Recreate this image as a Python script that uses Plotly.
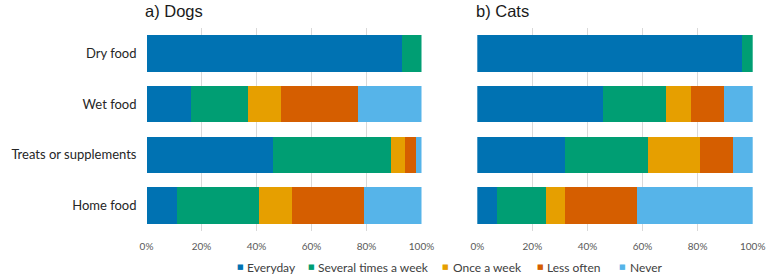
import plotly.graph_objects as go

categories = ["Dry food", "Wet food", "Treats or supplements", "Home food"]
series_names = ["Everyday", "Several times a week", "Once a week", "Less often", "Never"]
colors = ["#0072B2", "#009E73", "#E69F00", "#D55E00", "#56B4E9"]

dogs = {
    "Everyday":             [93, 16, 46, 11],
    "Several times a week": [7, 21, 43, 30],
    "Once a week":          [0, 12, 5, 12],
    "Less often":           [0, 28, 4, 26],
    "Never":                [0, 23, 2, 21],
}
cats = {
    "Everyday":             [96, 45.5, 32, 7],
    "Several times a week": [4, 23, 30, 18],
    "Once a week":          [0, 9, 19, 7],
    "Less often":           [0, 12, 12, 26],
    "Never":                [0, 10.5, 7, 42],
}
tick_vals = [0, 20, 40, 60, 80, 100]
tick_text = ["0%", "20%", "40%", "60%", "80%", "100%"]

W, H = 767, 277
FONT = "Lato"
top_m, bot_m = 28, 46
ph = H - top_m - bot_m

fig = go.Figure()
for name, col in zip(series_names, colors):
    fig.add_trace(go.Bar(y=categories, x=dogs[name], name=name, orientation="h",
                         marker=dict(color=col, line=dict(width=0)),
                         xaxis="x", yaxis="y", showlegend=False))
    fig.add_trace(go.Bar(y=categories, x=cats[name], name=name, orientation="h",
                         marker=dict(color=col, line=dict(width=0)),
                         xaxis="x2", yaxis="y2", showlegend=False))

axis_x = dict(range=[0, 100], tickvals=tick_vals, ticktext=tick_text, showgrid=True,
              gridcolor="#d9d9d9", gridwidth=1, zeroline=False, showline=False,
              tickfont=dict(size=10, color="#595959", family=FONT), ticks="",
              ticklabelstandoff=8, fixedrange=True, automargin=False)


def py(pix_from_top):
    return (H - pix_from_top - bot_m) / ph


# legend drawn as text annotations (square + label)
legend_sq_px = [236.7, 307.7, 442.0, 536.7, 619.3]
annotations = []
for name, col, px in zip(series_names, colors, legend_sq_px):
    annotations.append(dict(text="■", x=(px - 2) / W, xref="paper", xanchor="left",
                            y=py(266.5), yref="paper", yanchor="middle", showarrow=False,
                            font=dict(size=7, color=col, family="DejaVu Sans")))
    annotations.append(dict(text=name, x=(px + 8.5) / W, xref="paper", xanchor="left",
                            y=py(267), yref="paper", yanchor="middle", showarrow=False,
                            font=dict(size=12, color="#404040", family=FONT)))

annotations += [
    dict(text="a) Dogs", x=143 / W, xref="paper", xanchor="left", y=py(11),
         yref="paper", yanchor="middle", showarrow=False,
         font=dict(size=16.5, color="#1a1a1a", family="Liberation Sans")),
    dict(text="b) Cats", x=474 / W, xref="paper", xanchor="left", y=py(11),
         yref="paper", yanchor="middle", showarrow=False,
         font=dict(size=16.5, color="#1a1a1a", family="Liberation Sans")),
]

fig.update_layout(
    barmode="stack",
    bargap=0.28,
    width=W, height=H,
    margin=dict(l=0, r=0, t=top_m, b=bot_m),
    paper_bgcolor="white", plot_bgcolor="white",
    font=dict(family=FONT),
    showlegend=False,
    xaxis=dict(domain=[146.5 / W, 421.5 / W], anchor="y", **axis_x),
    xaxis2=dict(domain=[477.3 / W, 752.7 / W], anchor="y2", **axis_x),
    yaxis=dict(domain=[0, 1], anchor="x", categoryorder="array", categoryarray=categories[::-1],
               tickfont=dict(size=13, color="#262626", family=FONT), ticks="", ticklen=0,
               ticklabelstandoff=9, showgrid=False, showline=False, automargin=False),
    yaxis2=dict(domain=[0, 1], anchor="x2", categoryorder="array", categoryarray=categories[::-1],
                showticklabels=False, showgrid=False, showline=False, automargin=False),
    annotations=annotations,
)
fig.write_html("out.html")
